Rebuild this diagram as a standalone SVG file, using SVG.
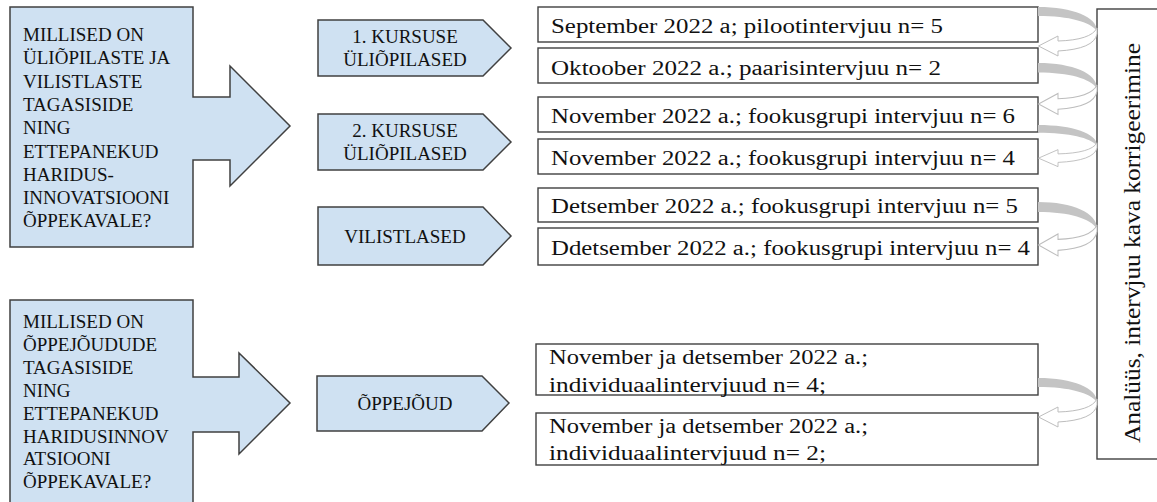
<svg xmlns="http://www.w3.org/2000/svg" xmlns:xlink="http://www.w3.org/1999/xlink" width="1157" height="502" viewBox="0 0 1157 502">
<style>
.blue{fill:#cfe1f2;stroke:#404040;stroke-width:1.5;stroke-linejoin:miter}
.box{fill:#ffffff;stroke:#404040;stroke-width:1.4}
.t{font-family:"Liberation Serif","Times New Roman",serif;fill:#111;font-size:20px}
.tl{font-family:"Liberation Serif","Times New Roman",serif;fill:#111;font-size:19px}
.ts{font-family:"Liberation Serif","Times New Roman",serif;fill:#111;font-size:19px;text-anchor:middle}
.gray{fill:#c4c4c4}
.wa{fill:#ffffff;stroke:#bdbdbd;stroke-width:1}
</style>
<defs>
<g id="curv">
<path class="gray" d="M0,0 C35,0 59,10 59,24 C52,15 32,9 0,9 Z"/>
<path class="wa" d="M59,21 Q53,33 20,34 L20,29 L0.5,39 L20,49 L20,44 Q56,42 59,27 Z"/>
</g>
</defs>
<g id="q1">
<path class="blue" d="M10,7 H193 V97 H230 V66 L290,126 L230,186 V160 H193 V247 H10 Z"/>
<text class="tl" x="23" y="41"><tspan x="23" y="41">MILLISED ON</tspan><tspan x="23" y="64.3">ÜLIÕPILASTE JA</tspan><tspan x="23" y="87.6">VILISTLASTE</tspan><tspan x="23" y="110.9">TAGASISIDE</tspan><tspan x="23" y="134.2">NING</tspan><tspan x="23" y="157.5">ETTEPANEKUD</tspan><tspan x="23" y="180.8">HARIDUS-</tspan><tspan x="23" y="204.1">INNOVATSIOONI</tspan><tspan x="23" y="227.4">ÕPPEKAVALE?</tspan></text>
</g>
<g id="q2">
<path class="blue" d="M10,300 H193 V377 H239 V353 L290,403 L239,454 V432 H193 V506 H10 Z"/>
<text class="tl" x="23" y="328"><tspan x="23" y="328">MILLISED ON</tspan><tspan x="23" y="350.9">ÕPPEJÕUDUDE</tspan><tspan x="23" y="373.8">TAGASISIDE</tspan><tspan x="23" y="396.7">NING</tspan><tspan x="23" y="419.6">ETTEPANEKUD</tspan><tspan x="23" y="442.5">HARIDUSINNOV</tspan><tspan x="23" y="465.4">ATSIOONI</tspan><tspan x="23" y="488.3">ÕPPEKAVALE?</tspan></text>
</g>
<g id="g1">
<path class="blue" d="M318,20 H483 L511,48 L483,76 H318 Z"/>
<text class="ts" x="405" y="43">1. KURSUSE</text>
<text class="ts" x="405" y="66">ÜLIÕPILASED</text>
</g>
<g id="g2">
<path class="blue" d="M318,114 H483 L511,142 L483,170 H318 Z"/>
<text class="ts" x="405" y="137">2. KURSUSE</text>
<text class="ts" x="405" y="160">ÜLIÕPILASED</text>
</g>
<g id="g3">
<path class="blue" d="M318,207 H483 L511,236 L483,265 H318 Z"/>
<text class="ts" x="405" y="243">VILISTLASED</text>
</g>
<g id="g4">
<path class="blue" d="M317,376 H482 L509,403 L482,431 H317 Z"/>
<text class="ts" x="405" y="410">ÕPPEJÕUD</text>
</g>
<g id="b1"><rect class="box" x="538" y="7" width="500" height="35"/><text class="t" x="551" y="33" textLength="392" lengthAdjust="spacingAndGlyphs">September 2022 a; pilootintervjuu n= 5</text></g>
<g id="b2"><rect class="box" x="538" y="48" width="500" height="35"/><text class="t" x="551" y="75" textLength="390" lengthAdjust="spacingAndGlyphs">Oktoober 2022 a.; paarisintervjuu n= 2</text></g>
<g id="b3"><rect class="box" x="538" y="97" width="500" height="35"/><text class="t" x="551" y="123" textLength="464" lengthAdjust="spacingAndGlyphs">November 2022 a.; fookusgrupi intervjuu n= 6</text></g>
<g id="b4"><rect class="box" x="538" y="139" width="500" height="35"/><text class="t" x="551" y="165" textLength="464" lengthAdjust="spacingAndGlyphs">November 2022 a.; fookusgrupi intervjuu n= 4</text></g>
<g id="b5"><rect class="box" x="538" y="188" width="500" height="34"/><text class="t" x="551" y="213" textLength="467" lengthAdjust="spacingAndGlyphs">Detsember 2022 a.; fookusgrupi intervjuu n= 5</text></g>
<g id="b6"><rect class="box" x="538" y="228" width="500" height="37"/><text class="t" x="551" y="255" textLength="479" lengthAdjust="spacingAndGlyphs">Ddetsember 2022 a.; fookusgrupi intervjuu n= 4</text></g>
<g id="b7"><rect class="box" x="536" y="344" width="502" height="51"/><text class="t" x="549" y="364" textLength="319" lengthAdjust="spacingAndGlyphs">November ja detsember 2022 a.;</text><text class="t" x="549" y="392" textLength="277" lengthAdjust="spacingAndGlyphs">individuaalintervjuud n= 4;</text></g>
<g id="b8"><rect class="box" x="536" y="413" width="502" height="52"/><text class="t" x="549" y="433" textLength="319" lengthAdjust="spacingAndGlyphs">November ja detsember 2022 a.;</text><text class="t" x="549" y="460" textLength="277" lengthAdjust="spacingAndGlyphs">individuaalintervjuud n= 2;</text></g>
<g id="analysis">
<rect class="box" x="1097" y="9" width="70" height="450"/>
<text class="t" style="font-size:24px" text-anchor="middle" transform="translate(1140,243) rotate(-90)" textLength="400" lengthAdjust="spacingAndGlyphs">Analüüs, intervjuu kava korrigeerimine</text>
</g>
<g id="connectors">
<use xlink:href="#curv" transform="translate(1038,7)"/>
<use xlink:href="#curv" transform="translate(1038,63) scale(1,1.05)"/>
<use xlink:href="#curv" transform="translate(1038,125) scale(1,0.85)"/>
<use xlink:href="#curv" transform="translate(1038,202) scale(1,1.1)"/>
<use xlink:href="#curv" transform="translate(1038,378)"/>
</g>
</svg>
